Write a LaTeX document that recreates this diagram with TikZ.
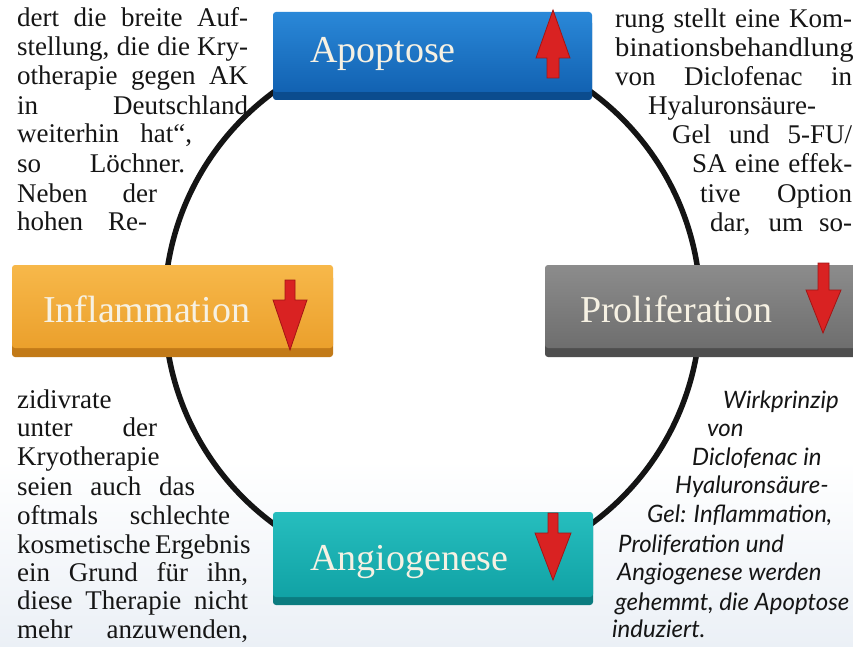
\documentclass[tikz,border=0pt]{standalone}
\usepackage{graphicx}
\usepackage{fontspec}
\setmainfont{Liberation Serif}
\newfontfamily\itsans{Lato}
\definecolor{apotop}{HTML}{2A88D8}
\definecolor{apobot}{HTML}{1262B2}
\definecolor{aporim}{HTML}{0B4C8E}
\definecolor{inftop}{HTML}{F7B84A}
\definecolor{infbot}{HTML}{EBA02C}
\definecolor{infrim}{HTML}{C27A18}
\definecolor{protop}{HTML}{8C8C8C}
\definecolor{probot}{HTML}{6E6E6E}
\definecolor{prorim}{HTML}{4E4E4E}
\definecolor{angtop}{HTML}{26BEBE}
\definecolor{angbot}{HTML}{11A2A5}
\definecolor{angrim}{HTML}{0B7C80}
\definecolor{labelc}{HTML}{F6F1E3}
\definecolor{arrred}{HTML}{D92222}
\definecolor{arrdark}{HTML}{A31414}
\definecolor{bodyc}{HTML}{151515}
\definecolor{bgblue}{HTML}{EBF0F6}
\begin{document}
\begin{tikzpicture}[x=1pt,y=-1pt,
  boxmain/.style={rounded corners=3pt, inner sep=0pt, draw=none},
  boxlabel/.style={anchor=base west, inner sep=0pt, text=labelc, font=\fontsize{38}{40}\selectfont},
  body/.style={anchor=base west, inner sep=0pt, text=bodyc, font=\fontsize{27}{29}\selectfont},
  itbody/.style={anchor=base west, inner sep=0pt, text=bodyc, font=\itsans\itshape\fontsize{24}{28}\selectfont},
  redarr/.style={fill=arrred, draw=arrdark, line width=0.8pt, line join=miter}
]
\useasboundingbox (0,0) rectangle (853,647);
\fill[white] (0,0) rectangle (853,647);
\shade[top color=white, bottom color=bgblue] (0,460) rectangle (853,647);

% cycle
\coordinate (cc) at (432.5,308);
\draw[line width=5.5pt, black!92] (cc) circle [radius=268pt];

% Apoptose
\fill[aporim, rounded corners=3pt] (273,20) rectangle (592,100);
\node[boxmain, top color=apotop, bottom color=apobot, minimum width=319pt, minimum height=80pt] (apo) at (432.5,52) {};
\node[boxlabel] (apol) at (310,63) {Apoptose};
\fill[redarr] (553,10) -- (570,58) -- (559,58) -- (559,78) -- (547,78) -- (547,58) -- (536,58) -- cycle;

% Inflammation
\fill[infrim, rounded corners=3pt] (12,275) rectangle (333,357);
\node[boxmain, top color=inftop, bottom color=infbot, minimum width=321pt, minimum height=83pt] (inf) at (172.5,306.5) {};
\node[boxlabel] (infl) at (43,322) {Inflammation};
\fill[redarr] (290,350) -- (307,300) -- (295,300) -- (295,280) -- (285,280) -- (285,300) -- (273,300) -- cycle;

% Proliferation
\fill[prorim, rounded corners=3pt] (545,275) rectangle (860,357);
\node[boxmain, top color=protop, bottom color=probot, minimum width=315pt, minimum height=83pt] (pro) at (702.5,306.5) {};
\node[boxlabel] (prol) at (580,322) {Proliferation};
\fill[redarr] (823,333) -- (841,290) -- (829,290) -- (829,263) -- (818,263) -- (818,290) -- (806,290) -- cycle;

% Angiogenese
\fill[angrim, rounded corners=3pt] (273,522) rectangle (593,605);
\node[boxmain, top color=angtop, bottom color=angbot, minimum width=320pt, minimum height=85pt] (ang) at (433,554.5) {};
\node[boxlabel] (angl) at (310,570) {Angiogenese};
\fill[redarr] (553,580) -- (571,533) -- (558,533) -- (558,513) -- (548,513) -- (548,533) -- (535,533) -- cycle;

% top-left column
\node[body] (a1) at (17,27) {\makebox[231pt][s]{dert die breite Auf-}};
\node[body] (a2) at (17,56) {\makebox[231pt][s]{stellung, die die Kry-}};
\node[body] (a3) at (17,85) {\makebox[231pt][s]{otherapie gegen AK}};
\node[body] (a4) at (17,115) {\makebox[231pt][s]{in Deutschland}};
\node[body] (a5) at (17,143) {\makebox[175pt][s]{weiterhin hat“,}};
\node[body] (a6) at (17,172) {\makebox[168pt][s]{so Löchner.}};
\node[body] (a7) at (17,202) {\makebox[140pt][s]{Neben der}};
\node[body] (a8) at (17,230) {\makebox[130pt][s]{hohen Re-}};

% top-right column
\node[body] (b1) at (615,28) {\makebox[237pt][s]{rung stellt eine Kom-}};
\node[body] (b2) at (615,57) {\scalebox{1.06}[1]{binationsbehandlung}};
\node[body] (b3) at (615,86) {\makebox[237pt][s]{von Diclofenac in}};
\node[body] (b4) at (648,115) {Hyaluronsäure-};
\node[body] (b5) at (672,144) {\makebox[180pt][s]{Gel und 5-FU/}};
\node[body] (b6) at (692,173) {\makebox[160pt][s]{SA eine effek-}};
\node[body] (b7) at (700,202) {\makebox[152pt][s]{tive Option}};
\node[body] (b8) at (710,231) {\makebox[142pt][s]{dar, um so-}};

% bottom-left column
\node[body] (c1) at (17,408) {zidivrate};
\node[body] (c2) at (17,436) {\makebox[140pt][s]{unter der}};
\node[body] (c3) at (17,465) {Kryotherapie};
\node[body] (c4) at (17,495) {\makebox[178pt][s]{seien auch das}};
\node[body] (c5) at (17,524) {\makebox[213pt][s]{oftmals schlechte}};
\node[body] (c6) at (17,553) {\makebox[231pt][s]{kosmetische Ergebnis}};
\node[body] (c7) at (17,581) {\makebox[231pt][s]{ein Grund für ihn,}};
\node[body] (c8) at (17,609) {\makebox[231pt][s]{diese Therapie nicht}};
\node[body] (c9) at (17,638) {\makebox[231pt][s]{mehr anzuwenden,}};

% bottom-right caption
\node[itbody] (d1) at (723,408) {Wirkprinzip};
\node[itbody] (d2) at (707,436) {von};
\node[itbody] (d3) at (692,465) {Diclofenac in};
\node[itbody] (d4) at (675,493) {Hyaluronsäure-};
\node[itbody] (d5) at (647,522) {Gel: Inflammation,};
\node[itbody] (d6) at (618,552) {Proliferation und};
\node[itbody] (d7) at (617,580) {Angiogenese werden};
\node[itbody] (d8) at (615,610) {gehemmt, die Apoptose};
\node[itbody] (d9) at (612,637) {induziert.};
\end{tikzpicture}
\end{document}
